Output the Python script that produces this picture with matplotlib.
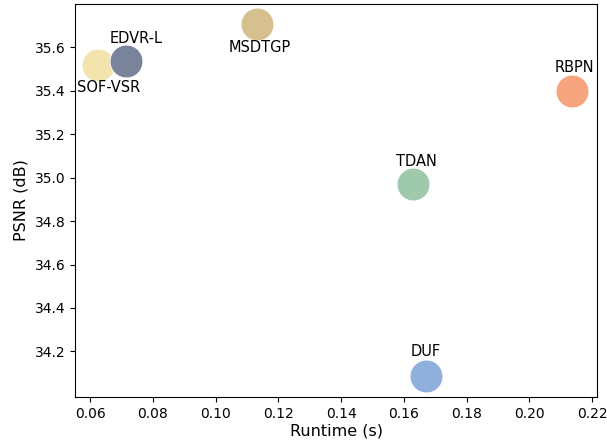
import numpy as np
import matplotlib.pyplot as plt

# Datos
methods = ["SOF-VSR", "EDVR-L", "MSDTGP", "RBPN", "TDAN", "DUF"]
runtime = [0.0625, 0.0715, 0.1132, 0.2135, 0.1630, 0.1670]
psnr = [35.517, 35.537, 35.710, 35.400, 34.970, 34.088]
colors = ["#f3e3ad", "#79839a", "#d6c08f", "#f7a57e", "#9fc9ab", "#8fb0dd"]
# desplazamiento de las etiquetas (px)
offsets = [(11, -22), (10, 23), (3, -24), (3, 23), (3, 23), (0, 24)]

fig = plt.figure(figsize=(6.07, 4.41), dpi=100)
ax = fig.add_axes([0.1236, 0.0998, 0.86, 0.891])

for m, x, y, c, off in zip(methods, runtime, psnr, colors, offsets):
    ax.scatter(x, y, s=560, color=c, edgecolors="white", linewidths=0.6, zorder=3)
    ax.annotate(m, (x, y), xytext=off, textcoords="offset pixels",
                ha="center", va="center", fontsize=10.5)

ax.set_xlabel("Runtime (s)", fontsize=11.5, labelpad=2)
ax.set_ylabel("PSNR (dB)", fontsize=11.5)
ax.set_xticks(np.arange(0.06, 0.221, 0.02))
ax.set_yticks(np.arange(34.2, 35.61, 0.2))
ax.set_xlim(0.0552, 0.2216)
ax.set_ylim(33.99, 35.80)

plt.savefig("out.png", dpi=100)
